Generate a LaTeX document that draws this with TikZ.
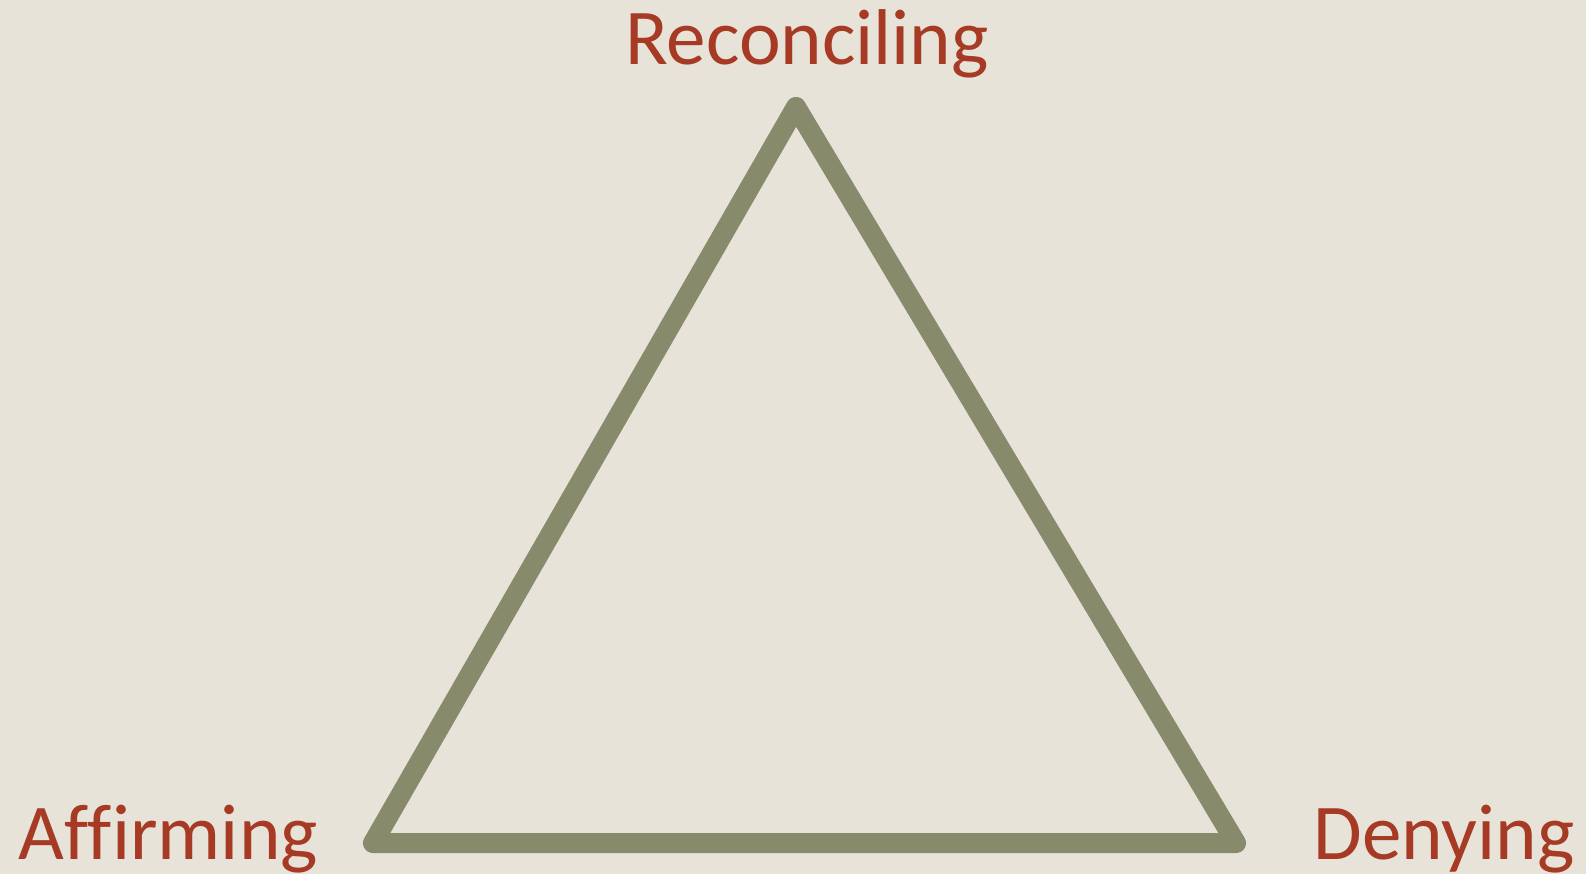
\documentclass[tikz,border=0pt]{standalone}
\usepackage{fontspec}
\setmainfont{Carlito}[Ligatures=NoCommon]
\usepackage{xcolor}
\usetikzlibrary{positioning}
\definecolor{bgbeige}{HTML}{E7E3D9}
\definecolor{forcered}{HTML}{A63A24}
\definecolor{olive}{HTML}{878A6B}

\begin{document}
\begin{tikzpicture}[line join=round, line cap=round,
      force/.style={text=forcered, font=\fontsize{22.5}{27}\selectfont, inner sep=0pt},
      side/.style={draw=olive, line width=0.2cm}]
      \fill[bgbeige] (0,0) rectangle (15.86,8.74);
      \useasboundingbox (0,0) rectangle (15.86,8.74);

      \coordinate (top) at (7.96,7.67);
      \coordinate (left) at (3.73,0.31);
      \coordinate (right) at (12.36,0.31);

      \node[force, anchor=base] (rec) at (8.07,8.09) {Reconciling};
      \node[force, anchor=base west] (aff) at (0.18,0.15) {Affirming};
      \node[force, anchor=base east] (den) at (15.75,0.15) {Denying};

      \draw[side] (top) -- (right) -- (left) -- cycle;
    \end{tikzpicture}
\end{document}
